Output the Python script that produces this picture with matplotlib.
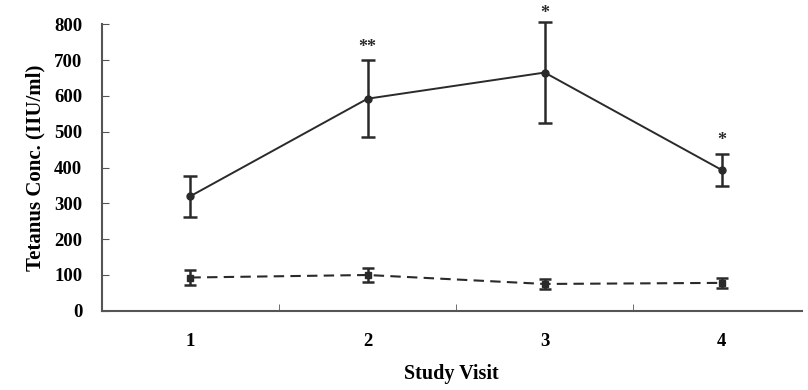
import matplotlib.pyplot as plt
import numpy as np

plt.rcParams['font.family'] = ['Liberation Serif', 'DejaVu Serif']

visits = [1, 2, 3, 4]
visit_labels = ['1', '2', '3', '4']

# serie continua (media y error)
solid_mean = [320, 592, 665, 393]
solid_err = [57, 107, 140, 45]
# serie discontinua
dashed_mean = [93, 100, 75, 78]
dashed_err = [20, 20, 15, 15]

stars = ['', '**', '*', '*']
star_y = [0, 712, 806, 452]

fig = plt.figure(figsize=(8.08, 3.9), dpi=100)
ax = fig.add_axes([0.126, 0.203, 0.866, 0.735])

c1 = ax.errorbar(visits, solid_mean, yerr=solid_err, color='#2a2a2a', lw=1.4,
                 marker='o', ms=5, capsize=5, elinewidth=1.8, capthick=1.8)
c2 = ax.errorbar(visits, dashed_mean, yerr=dashed_err, color='#2a2a2a', lw=1.5,
                 ls=(0, (5, 3)), marker='s', ms=5, capsize=4, elinewidth=1.8, capthick=1.8)
for c in (c1, c2):
    for art in c.lines[1] + c.lines[2]:
        art.set_clip_on(False)
    c.lines[0].set_clip_on(False)

for x, s, y in zip(visits, stars, star_y):
    if s:
        ax.text(x, y, s, ha='center', va='bottom', fontsize=13, fontweight='bold',
                color='#2a2a2a', clip_on=False)

ax.set_xlim(0.5, 4.45)
ax.set_ylim(0, 800)
ax.set_yticks(np.arange(0, 801, 100))
ax.set_xticks(visits)
ax.set_xticklabels(visit_labels)
ax.set_xticks([1.5, 2.5, 3.5], minor=True)
ax.tick_params(axis='x', which='major', length=0, pad=16, labelsize=13.5)
ax.tick_params(axis='x', which='minor', direction='in', length=5, color='#555555')
ax.tick_params(axis='y', direction='in', length=5, labelsize=13.5, pad=14, color='#555555')
for lab in ax.get_yticklabels() + ax.get_xticklabels():
    lab.set_fontweight('bold')

ax.spines['top'].set_visible(False)
ax.spines['right'].set_visible(False)
ax.spines['left'].set_color('#555555')
ax.spines['bottom'].set_color('#555555')
ax.spines['left'].set_linewidth(1.5)
ax.spines['bottom'].set_linewidth(1.5)

ax.set_xlabel('Study Visit', fontsize=14.5, fontweight='bold', labelpad=10)
ax.set_ylabel('Tetanus Conc. (IIU/ml)', fontsize=15, fontweight='bold', labelpad=6)

fig.savefig('out.png', dpi=100)
